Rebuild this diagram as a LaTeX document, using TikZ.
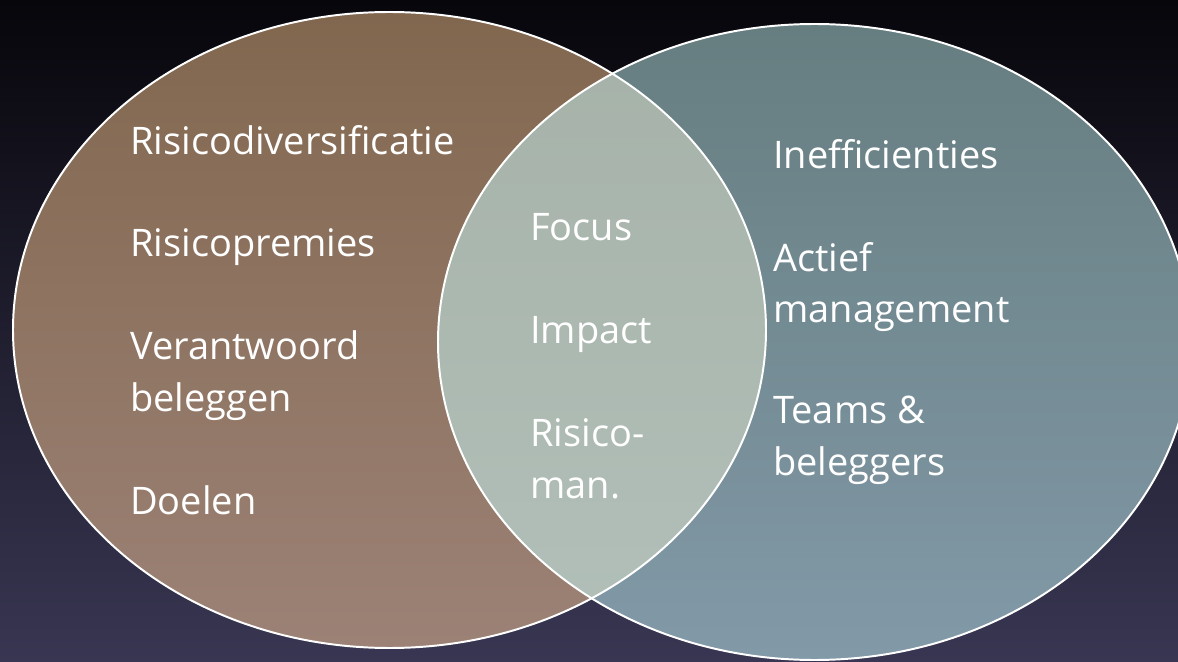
\documentclass[tikz,border=0pt]{standalone}
\usepackage{fontspec}
\setmainfont{Open Sans}
\usepackage{tikz}
\definecolor{bgtop}{HTML}{07060B}
\definecolor{bgbot}{HTML}{383652}
\definecolor{lefttop}{HTML}{82674F}
\definecolor{leftbot}{HTML}{9C8276}
\definecolor{righttop}{HTML}{667E80}
\definecolor{rightbot}{HTML}{8299A8}
\definecolor{midtop}{HTML}{A6B2A8}
\definecolor{midbot}{HTML}{B2C0BA}
\newcommand*{\rx}{376.5}
\newcommand*{\ry}{318}
\newcommand*{\leftset }{(389.5,330) ellipse [x radius=\rx, y radius=\ry]}
\newcommand*{\rightset}{(814.5,342) ellipse [x radius=\rx, y radius=\ry]}

\begin{document}
\begin{tikzpicture}[x=0.025cm, y=-0.025cm,
    item/.style={anchor=base west, text=white, align=left,
        font=\fontsize{27}{36.3}\selectfont, inner sep=0pt}]
    \clip (0,0) rectangle (1178,662);
    \shade [top color=bgtop, bottom color=bgbot] (0,0) rectangle (1178,662);
    \shade [top color=lefttop, bottom color=leftbot] \leftset;
    \shade [top color=righttop, bottom color=rightbot] \rightset;
    \begin{scope}
        \clip \leftset;
        \shade [top color=midtop, bottom color=midbot] \rightset;
    \end{scope}
    \draw [white, line width=1.4pt] \leftset;
    \draw [white, line width=1.4pt] \rightset;
    % left set (base of last line)
    \node [item] (diversificatie) at (130,155) {Risicodiversificatie};
    \node [item] (premies)        at (130,257) {Risicopremies};
    \node [item] (verantwoord)    at (130,411) {Verantwoord\\beleggen};
    \node [item] (doelen)         at (130,514) {Doelen};
    % overlap
    \node [item] (focus)   at (530,241) {Focus};
    \node [item] (impact)  at (530,344) {Impact};
    \node [item] (riscman) at (530,498) {Risico-\\man.};
    % right set
    \node [item] (ineff)  at (773,169) {Inefficienties};
    \node [item] (actief) at (773,323) {Actief\\management};
    \node [item] (teams)  at (773,475) {Teams \&\\beleggers};
\end{tikzpicture}
\end{document}
